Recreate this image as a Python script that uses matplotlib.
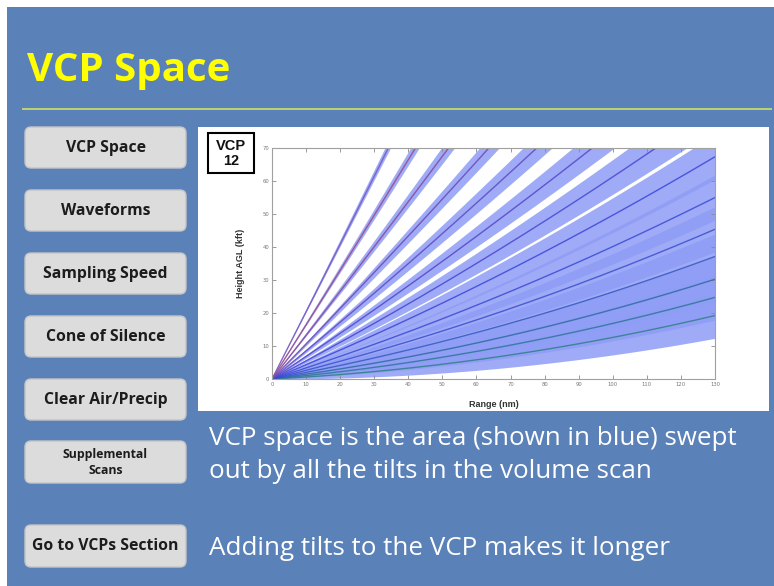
import numpy as np
import matplotlib
matplotlib.use("Agg")
import matplotlib.pyplot as plt
from matplotlib.patches import Rectangle, FancyBboxPatch

# ---------------- data ----------------
elev_angles_deg = [0.5, 0.9, 1.3, 1.8, 2.4, 3.1, 4.0, 5.1, 6.4, 8.0, 10.0, 12.5, 15.6, 19.5]
beam_width_deg = 1.0
range_max_nm = 130
x_ticks = [0, 10, 20, 30, 40, 50, 60, 70, 80, 90, 100, 110, 120, 130]
y_ticks = [0, 10, 20, 30, 40, 50, 60, 70]
menu_labels = ["VCP Space", "Waveforms", "Sampling Speed", "Cone of Silence",
               "Clear Air/Precip", "Supplemental\nScans", "Go to VCPs Section"]
title_text = "VCP Space"
body_lines = ["VCP space is the area (shown in blue) swept",
              "out by all the tilts in the volume scan"]
body_line3 = "Adding tilts to the VCP makes it longer"

# ---------------- styles ----------------
W, H = 774, 586
BLUE_BG = "#5b81b9"
line_colors = ["#2f7f88", "#2f7596", "#2f6aa2", "#3358c0", "#3a4fd0", "#3a4ad6", "#3b45d8",
               "#4745d2", "#5345c8", "#5f48c0", "#6d48b2", "#86489c", "#98488a", "#7656c2"]
fill_color = "#8e9df5"


def beam_height_kft(r_nm, elev_deg):
    # beam propagation with effective earth radius
    R = 1.21 * 6371.0
    r = np.asarray(r_nm) * 1.852
    h = np.sqrt(r ** 2 + R ** 2 + 2 * r * R * np.sin(np.radians(elev_deg))) - R
    return h * 3.28084


fig = plt.figure(figsize=(W / 100, H / 100), dpi=100)
fig.patch.set_facecolor("white")

bg = fig.add_axes([0, 0, 1, 1])
bg.set_xlim(0, W)
bg.set_ylim(H, 0)
bg.axis("off")

# slide background
bg.add_patch(Rectangle((7, 7), W - 7, H - 7, facecolor=BLUE_BG, edgecolor="none"))
# title
bg.text(27, 81, title_text, color="#ffff00", fontsize=29, fontweight="bold",
        family=["Open Sans", "DejaVu Sans"], ha="left", va="baseline")
# separator line
bg.plot([22, 772], [109, 109], color="#c9d86a", lw=1.3, solid_capstyle="butt")

# menu buttons
btn_y = [(127, 168), (190, 231), (253, 294), (316, 357), (379, 420), (441, 483), (525, 567)]
for (y0, y1), lab in zip(btn_y, menu_labels):
    bg.add_patch(FancyBboxPatch((25, y0), 161, y1 - y0,
                                boxstyle="round,pad=0,rounding_size=6",
                                facecolor="#dcdcdc", edgecolor="#c4c4c4", lw=1))
    fs = 8.8 if "\n" in lab else 11.3
    bg.text(105.5, (y0 + y1) / 2 + 0.5, lab, ha="center", va="center", fontsize=fs,
            fontweight="bold", color="#1c1c1c", family=["Open Sans", "DejaVu Sans"],
            linespacing=1.35)

# chart white panel
bg.add_patch(Rectangle((198, 127), 571, 284, facecolor="white", edgecolor="none"))

# VCP 12 box
bg.add_patch(Rectangle((208, 133), 46, 40, facecolor="white", edgecolor="black", lw=1.5))
bg.text(231, 153.5, "VCP\n12", ha="center", va="center", fontsize=10.5, fontweight="bold",
        family=["Liberation Sans", "DejaVu Sans"], linespacing=1.05, color="#111111")

# body text
for yb, line in zip([445, 478], body_lines):
    bg.text(209, yb, line, color="white", fontsize=18.7,
            family=["Open Sans", "DejaVu Sans"], ha="left", va="baseline")
bg.text(209, 555, body_line3, color="white", fontsize=18.7,
        family=["Open Sans", "DejaVu Sans"], ha="left", va="baseline")

# ---------------- chart ----------------
ax = fig.add_axes([272 / W, 1 - 379 / H, (715 - 272) / W, (379 - 148) / H])
rng = np.linspace(0, range_max_nm, 400)
for el in elev_angles_deg:
    lo = beam_height_kft(rng, el - beam_width_deg / 2)
    hi = beam_height_kft(rng, el + beam_width_deg / 2)
    ax.fill_between(rng, lo, hi, color=fill_color, alpha=0.85, lw=0)
for el, col in zip(elev_angles_deg, line_colors):
    ax.plot(rng, beam_height_kft(rng, el), color=col, lw=1.0, alpha=0.85)

ax.set_xlim(0, range_max_nm)
ax.set_ylim(0, 70)
ax.set_xticks(x_ticks)
ax.set_yticks(y_ticks)
ax.tick_params(direction="in", length=3, width=0.6, colors="#8a8a8a", labelsize=3.8,
               labelcolor="#777777", top=True, right=True, pad=2)
for s in ax.spines.values():
    s.set_color("#a0a0a0")
    s.set_linewidth(0.8)
ax.set_xlabel("Range (nm)", fontsize=6.5, fontweight="bold", color="#333333",
              family=["Liberation Sans", "DejaVu Sans"])
ax.set_ylabel("Height AGL (kft)", fontsize=6.5, fontweight="bold", color="#333333",
              family=["Liberation Sans", "DejaVu Sans"])
ax.xaxis.set_label_coords(0.5, -0.09)
ax.yaxis.set_label_coords(-0.06, 0.5)

fig.savefig("out.png", dpi=100, facecolor="white")
